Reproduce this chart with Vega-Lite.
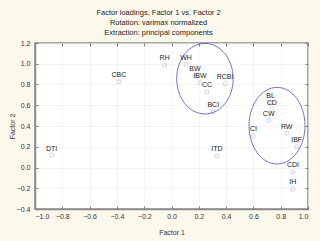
{
  "$schema": "https://vega.github.io/schema/vega-lite/v6.json",
  "width": 273,
  "height": 166,
  "autosize": {"type": "none"},
  "padding": {"left": 35, "top": 43, "right": 12, "bottom": 32},
  "background": "#fdf8ec",
  "title": {
    "text": ["Factor loadings, Factor 1 vs. Factor 2", "Rotation: varimax normalized", "Extraction: principal components"],
    "font": "Liberation Sans",
    "fontSize": 7.5,
    "fontWeight": "normal",
    "lineHeight": 10,
    "color": "#222222",
    "anchor": "middle",
    "dx": -13,
    "offset": 3
  },
  "datasets": {
    "pts": [
      {"name": "DTI", "f1": -0.878, "f2": 0.12},
      {"name": "CBC", "f1": -0.385, "f2": 0.827},
      {"name": "RH", "f1": -0.05, "f2": 0.988},
      {"name": "WH", "f1": 0.106, "f2": 0.995},
      {"name": "BW", "f1": 0.172, "f2": 0.882},
      {"name": "IBW", "f1": 0.209, "f2": 0.817},
      {"name": "CC", "f1": 0.26, "f2": 0.728},
      {"name": "RCBI", "f1": 0.392, "f2": 0.808},
      {"name": "BCI", "f1": 0.306, "f2": 0.535},
      {"name": "ITD", "f1": 0.333, "f2": 0.114},
      {"name": "BL", "f1": 0.726, "f2": 0.622},
      {"name": "CD", "f1": 0.734, "f2": 0.561},
      {"name": "CW", "f1": 0.712, "f2": 0.451},
      {"name": "CI", "f1": 0.6, "f2": 0.304},
      {"name": "RW", "f1": 0.844, "f2": 0.33},
      {"name": "IBF", "f1": 0.917, "f2": 0.2},
      {"name": "CDI", "f1": 0.89, "f2": -0.04},
      {"name": "IH", "f1": 0.888, "f2": -0.207}
    ],
    "ell": [
      {"group": "A", "f1": 0.245, "f2": 0.856},
      {"group": "B", "f1": 0.773, "f2": 0.403}
    ]
  },
  "layer": [
    {
      "data": {"name": "pts"},
      "mark": {"type": "point", "shape": "circle", "size": 16, "filled": false, "stroke": "#b0b7f2", "strokeWidth": 0.9},
      "encoding": {
        "x": {
          "field": "f1", "type": "quantitative", "title": "Factor 1",
          "scale": {"domain": [-1, 1], "nice": false, "zero": false},
          "axis": {"values": [-1, -0.8, -0.6, -0.4, -0.2, 0, 0.2, 0.4, 0.6, 0.8, 1], "format": ".1f", "tickSize": -3, "labelPadding": 6, "titlePadding": 9}
        },
        "y": {
          "field": "f2", "type": "quantitative", "title": "Factor 2",
          "scale": {"domain": [-0.4, 1.2], "nice": false, "zero": false},
          "axis": {"values": [-0.4, -0.2, 0, 0.2, 0.4, 0.6, 0.8, 1, 1.2], "format": ".1f", "tickSize": -3, "labelPadding": 8, "titlePadding": 1}
        }
      }
    },
    {
      "data": {"name": "pts"},
      "mark": {"type": "text", "dy": -6.5, "font": "Liberation Sans", "fontSize": 7, "color": "#222222"},
      "encoding": {
        "x": {"field": "f1", "type": "quantitative", "axis": null},
        "y": {"field": "f2", "type": "quantitative", "axis": null},
        "text": {"field": "name"}
      }
    },
    {
      "data": {"name": "ell"},
      "transform": [{"filter": "datum.group == 'A'"}],
      "mark": {"type": "point", "shape": "M-0.8,0A0.8,1,0,1,1,0.8,0A0.8,1,0,1,1,-0.8,0Z", "size": 4984, "filled": false, "stroke": "#3a3ab4", "strokeWidth": 1},
      "encoding": {
        "x": {"field": "f1", "type": "quantitative", "axis": null},
        "y": {"field": "f2", "type": "quantitative", "axis": null}
      }
    },
    {
      "data": {"name": "ell"},
      "transform": [{"filter": "datum.group == 'B'"}],
      "mark": {"type": "point", "shape": "M-0.731,0A0.731,1,0,1,1,0.731,0A0.731,1,0,1,1,-0.731,0Z", "size": 5868, "filled": false, "stroke": "#3a3ab4", "strokeWidth": 1},
      "encoding": {
        "x": {"field": "f1", "type": "quantitative", "axis": null},
        "y": {"field": "f2", "type": "quantitative", "axis": null}
      }
    },
    {
      "data": {"name": "pts"},
      "mark": {"type": "point", "opacity": 0},
      "encoding": {
        "x": {"field": "f1", "type": "quantitative", "axis": {"orient": "top", "values": [-1, -0.8, -0.6, -0.4, -0.2, 0, 0.2, 0.4, 0.6, 0.8, 1], "labels": false, "grid": false, "domain": false, "tickSize": -3, "title": null}},
        "y": {"field": "f2", "type": "quantitative", "axis": {"orient": "right", "values": [-0.4, -0.2, 0, 0.2, 0.4, 0.6, 0.8, 1, 1.2], "labels": false, "grid": false, "domain": false, "tickSize": -3, "title": null}}
      }
    }
  ],
  "resolve": {"axis": {"x": "independent", "y": "independent"}},
  "config": {
    "view": {"fill": "white", "stroke": "#8a8a8a", "strokeWidth": 1.5},
    "axis": {
      "labelFont": "Liberation Sans",
      "labelFontSize": 7,
      "labelColor": "#333333",
      "titleFont": "Liberation Sans",
      "titleFontSize": 7,
      "titleFontWeight": "normal",
      "titleColor": "#333333",
      "grid": true,
      "gridColor": "#efefef",
      "gridWidth": 0.6,
      "domainColor": "#8a8a8a",
      "domainWidth": 1.5,
      "tickColor": "#666666",
      "tickWidth": 0.8
    }
  }
}
